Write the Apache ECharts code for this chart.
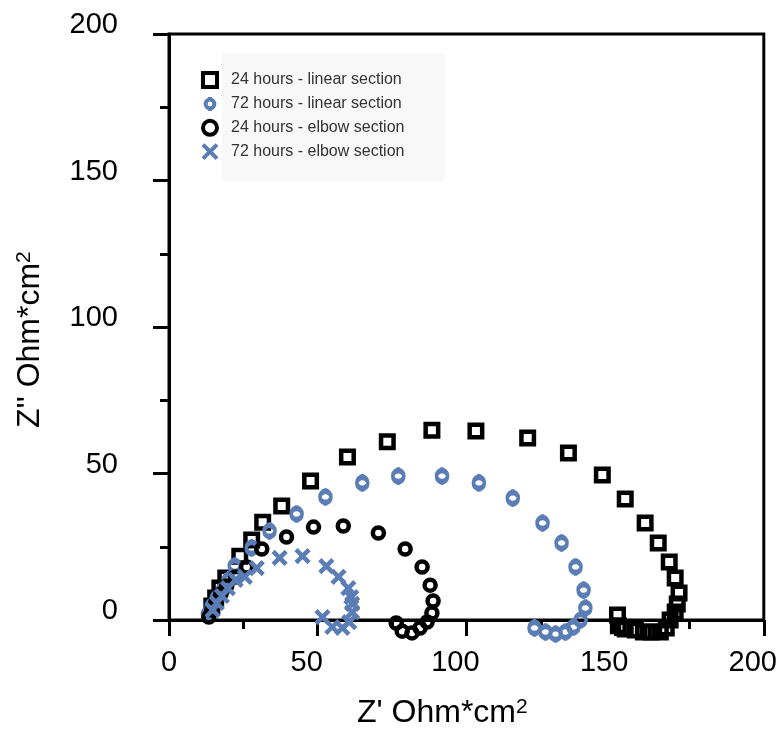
<!DOCTYPE html>
<html>
<head>
<meta charset="utf-8">
<script src="https://cdn.jsdelivr.net/npm/echarts@6/dist/echarts.min.js"></script>
<style>
  html, body { margin: 0; padding: 0; background: #fff; }
  #chart { width: 780px; height: 742px; }
</style>
</head>
<body>
<div id="chart"></div>
<script>
// Nyquist impedance data: [Z' (Ohm*cm2), Z'' (Ohm*cm2)]
const seriesNames = [
  '24 hours - linear section',
  '72 hours - linear section',
  '24 hours - elbow section',
  '72 hours - elbow section'
];

const linear24 = [
  [14.4, 4.8], [15.7, 7.5], [17.1, 10.9], [19.1, 14.3], [23.8, 21.8],
  [27.8, 27.3], [31.5, 33.4], [37.9, 38.9], [47.6, 47.4], [60.0, 55.6],
  [73.4, 60.8], [88.4, 64.8], [103.2, 64.5], [120.6, 62.1], [134.3, 57.0],
  [145.7, 49.5], [153.4, 41.3], [160.1, 33.1], [164.5, 26.3], [168.2, 19.8],
  [170.2, 14.3], [171.5, 9.2], [170.9, 5.5], [170.2, 2.7], [168.5, 0.0],
  [167.2, -2.7], [165.2, -4.1], [162.1, -4.1], [159.5, -4.1], [156.8, -3.4],
  [153.4, -3.1], [151.1, -2.0], [150.8, 1.7]
];

const linear72 = [
  [13.1, 2.0], [14.4, 4.8], [16.1, 7.5], [18.1, 10.2], [20.1, 13.7],
  [22.1, 18.4], [27.8, 24.6], [33.8, 30.4], [42.9, 36.2], [52.6, 42.0],
  [65.0, 46.8], [77.1, 49.1], [91.8, 49.1], [104.2, 46.8], [115.6, 41.6],
  [125.6, 33.1], [132.0, 26.3], [136.7, 18.1], [139.4, 10.2], [140.0, 4.1],
  [138.4, 0.0], [136.0, -2.4], [133.3, -4.1], [130.0, -4.8], [126.6, -4.1],
  [122.9, -2.7]
];

const elbow24 = [
  [13.4, 1.0], [14.4, 3.4], [15.7, 6.1], [17.4, 8.9], [19.4, 11.6],
  [22.4, 14.7], [26.1, 18.1], [31.2, 24.2], [39.5, 28.3], [48.6, 31.7],
  [58.6, 32.1], [70.4, 29.7], [79.4, 24.2], [85.1, 18.1], [87.8, 11.9],
  [88.8, 6.5], [88.4, 2.4], [86.8, -0.7], [84.4, -2.7], [81.7, -4.4],
  [78.4, -3.8], [76.4, -1.0]
];

const elbow72 = [
  [14.7, 3.4], [16.1, 5.8], [17.8, 8.2], [19.8, 10.9], [22.4, 13.7],
  [25.5, 14.7], [29.5, 17.7], [37.2, 21.2], [44.9, 21.8], [52.9, 18.4],
  [57.0, 14.7], [60.3, 10.9], [61.3, 7.8], [61.6, 5.5], [61.6, 2.7],
  [60.6, -0.7], [58.3, -2.7], [54.9, -2.4], [51.6, 1.0]
];

const xTicks = [0, 50, 100, 150, 200];
const yTicks = [0, 50, 100, 150, 200];

const FONT = 'Liberation Sans, Arial, sans-serif';
const BLACK = '#000000';
const BLUE = '#5b7db6';
const MARK_STROKE = 4.5;

// open circle with short vertical caps above and below
const CAPPED_CIRCLE = 'path://M10,8 C10,10.76 7.76,13 5,13 C2.24,13 0,10.76 0,8 ' +
  'C0,5.24 2.24,3 5,3 C7.76,3 10,5.24 10,8 Z M5,0 L5,3 M5,13 L5,16';
const CROSS = 'path://M0,0 L10,10 M10,0 L0,10';

function axisBase(ticks) {
  return {
    type: 'value',
    min: ticks[0],
    max: ticks[ticks.length - 1],
    interval: ticks[1] - ticks[0],
    splitLine: { show: false },
    axisLine: { show: true, onZero: false, lineStyle: { color: BLACK, width: 3 } },
    axisTick: { show: true, inside: false, length: 16, lineStyle: { color: BLACK, width: 3 } },
    minorTick: { show: true, splitNumber: 2, length: 9, lineStyle: { color: BLACK, width: 3 } },
    minorSplitLine: { show: false }
  };
}

const xAxis = Object.assign(axisBase(xTicks), {
  axisLabel: {
    margin: 28,
    color: BLACK,
    fontFamily: FONT,
    fontSize: 29,
    formatter: v => (v === 0 ? '{z|0}' : '{n|' + v + '}'),
    rich: {
      z: { fontFamily: FONT, fontSize: 29, color: BLACK },
      n: { fontFamily: FONT, fontSize: 29, color: BLACK, padding: [0, 22, 0, 0] }
    }
  }
});

const yAxis = Object.assign(axisBase(yTicks), {
  axisLabel: {
    margin: 51,
    color: BLACK,
    fontFamily: FONT,
    fontSize: 29,
    formatter: v => '{v|' + v + '}',
    rich: {
      v: { fontFamily: FONT, fontSize: 29, color: BLACK, padding: [0, 0, 18, 0] }
    }
  }
});

function scatter(name, data, symbol, size, color) {
  return {
    name: name,
    type: 'scatter',
    data: data,
    symbol: symbol,
    symbolSize: size,
    clip: false,
    itemStyle: { color: 'rgba(0,0,0,0)', borderColor: color, borderWidth: MARK_STROKE, opacity: 1 },
    emphasis: { disabled: true }
  };
}

const chart = echarts.init(document.getElementById('chart'), null, { renderer: 'canvas' });

chart.setOption({
  animation: false,
  backgroundColor: '#ffffff',
  grid: {
    left: 169, right: 16, top: 34, bottom: 122,
    show: true, borderColor: BLACK, borderWidth: 3, backgroundColor: 'transparent'
  },
  xAxis: xAxis,
  yAxis: yAxis,
  legend: {
    orient: 'vertical',
    left: 196,
    top: 66,
    itemWidth: 14,
    itemHeight: 14,
    itemGap: 5.9,
    data: seriesNames,
    itemStyle: { borderWidth: 4 },
    textStyle: { fontFamily: FONT, fontSize: 16, color: '#333333', lineHeight: 16, padding: [0, 0, 0, 9] },
    selectedMode: false
  },
  graphic: [
    {
      type: 'rect', z: -10,
      shape: { x: 222, y: 53, width: 223, height: 129 },
      style: { fill: '#f8f8f8' }
    },
    {
      type: 'text', left: 357, top: 697,
      style: {
        text: "{a|Z' Ohm*cm}{b|2}",
        rich: {
          a: { fontFamily: FONT, fontSize: 32, fill: BLACK, verticalAlign: 'bottom' },
          b: { fontFamily: FONT, fontSize: 21, fill: BLACK, verticalAlign: 'top' }
        }
      }
    },
    {
      type: 'group', x: 14, y: 428, rotation: Math.PI / 2,
      children: [{
        type: 'text', x: 0, y: 0,
        style: {
          text: "{a|Z'' Ohm*cm}{b|2}",
          rich: {
            a: { fontFamily: FONT, fontSize: 32, fill: BLACK, verticalAlign: 'bottom' },
            b: { fontFamily: FONT, fontSize: 21, fill: BLACK, verticalAlign: 'top' }
          }
        }
      }]
    }
  ],
  series: [
    scatter(seriesNames[0], linear24, 'rect', 12.5, BLACK),
    scatter(seriesNames[1], linear72, CAPPED_CIRCLE, [11, 17.6], BLUE),
    scatter(seriesNames[2], elbow24, 'circle', 11, BLACK),
    scatter(seriesNames[3], elbow72, CROSS, 13, BLUE)
  ]
});
</script>
</body>
</html>
